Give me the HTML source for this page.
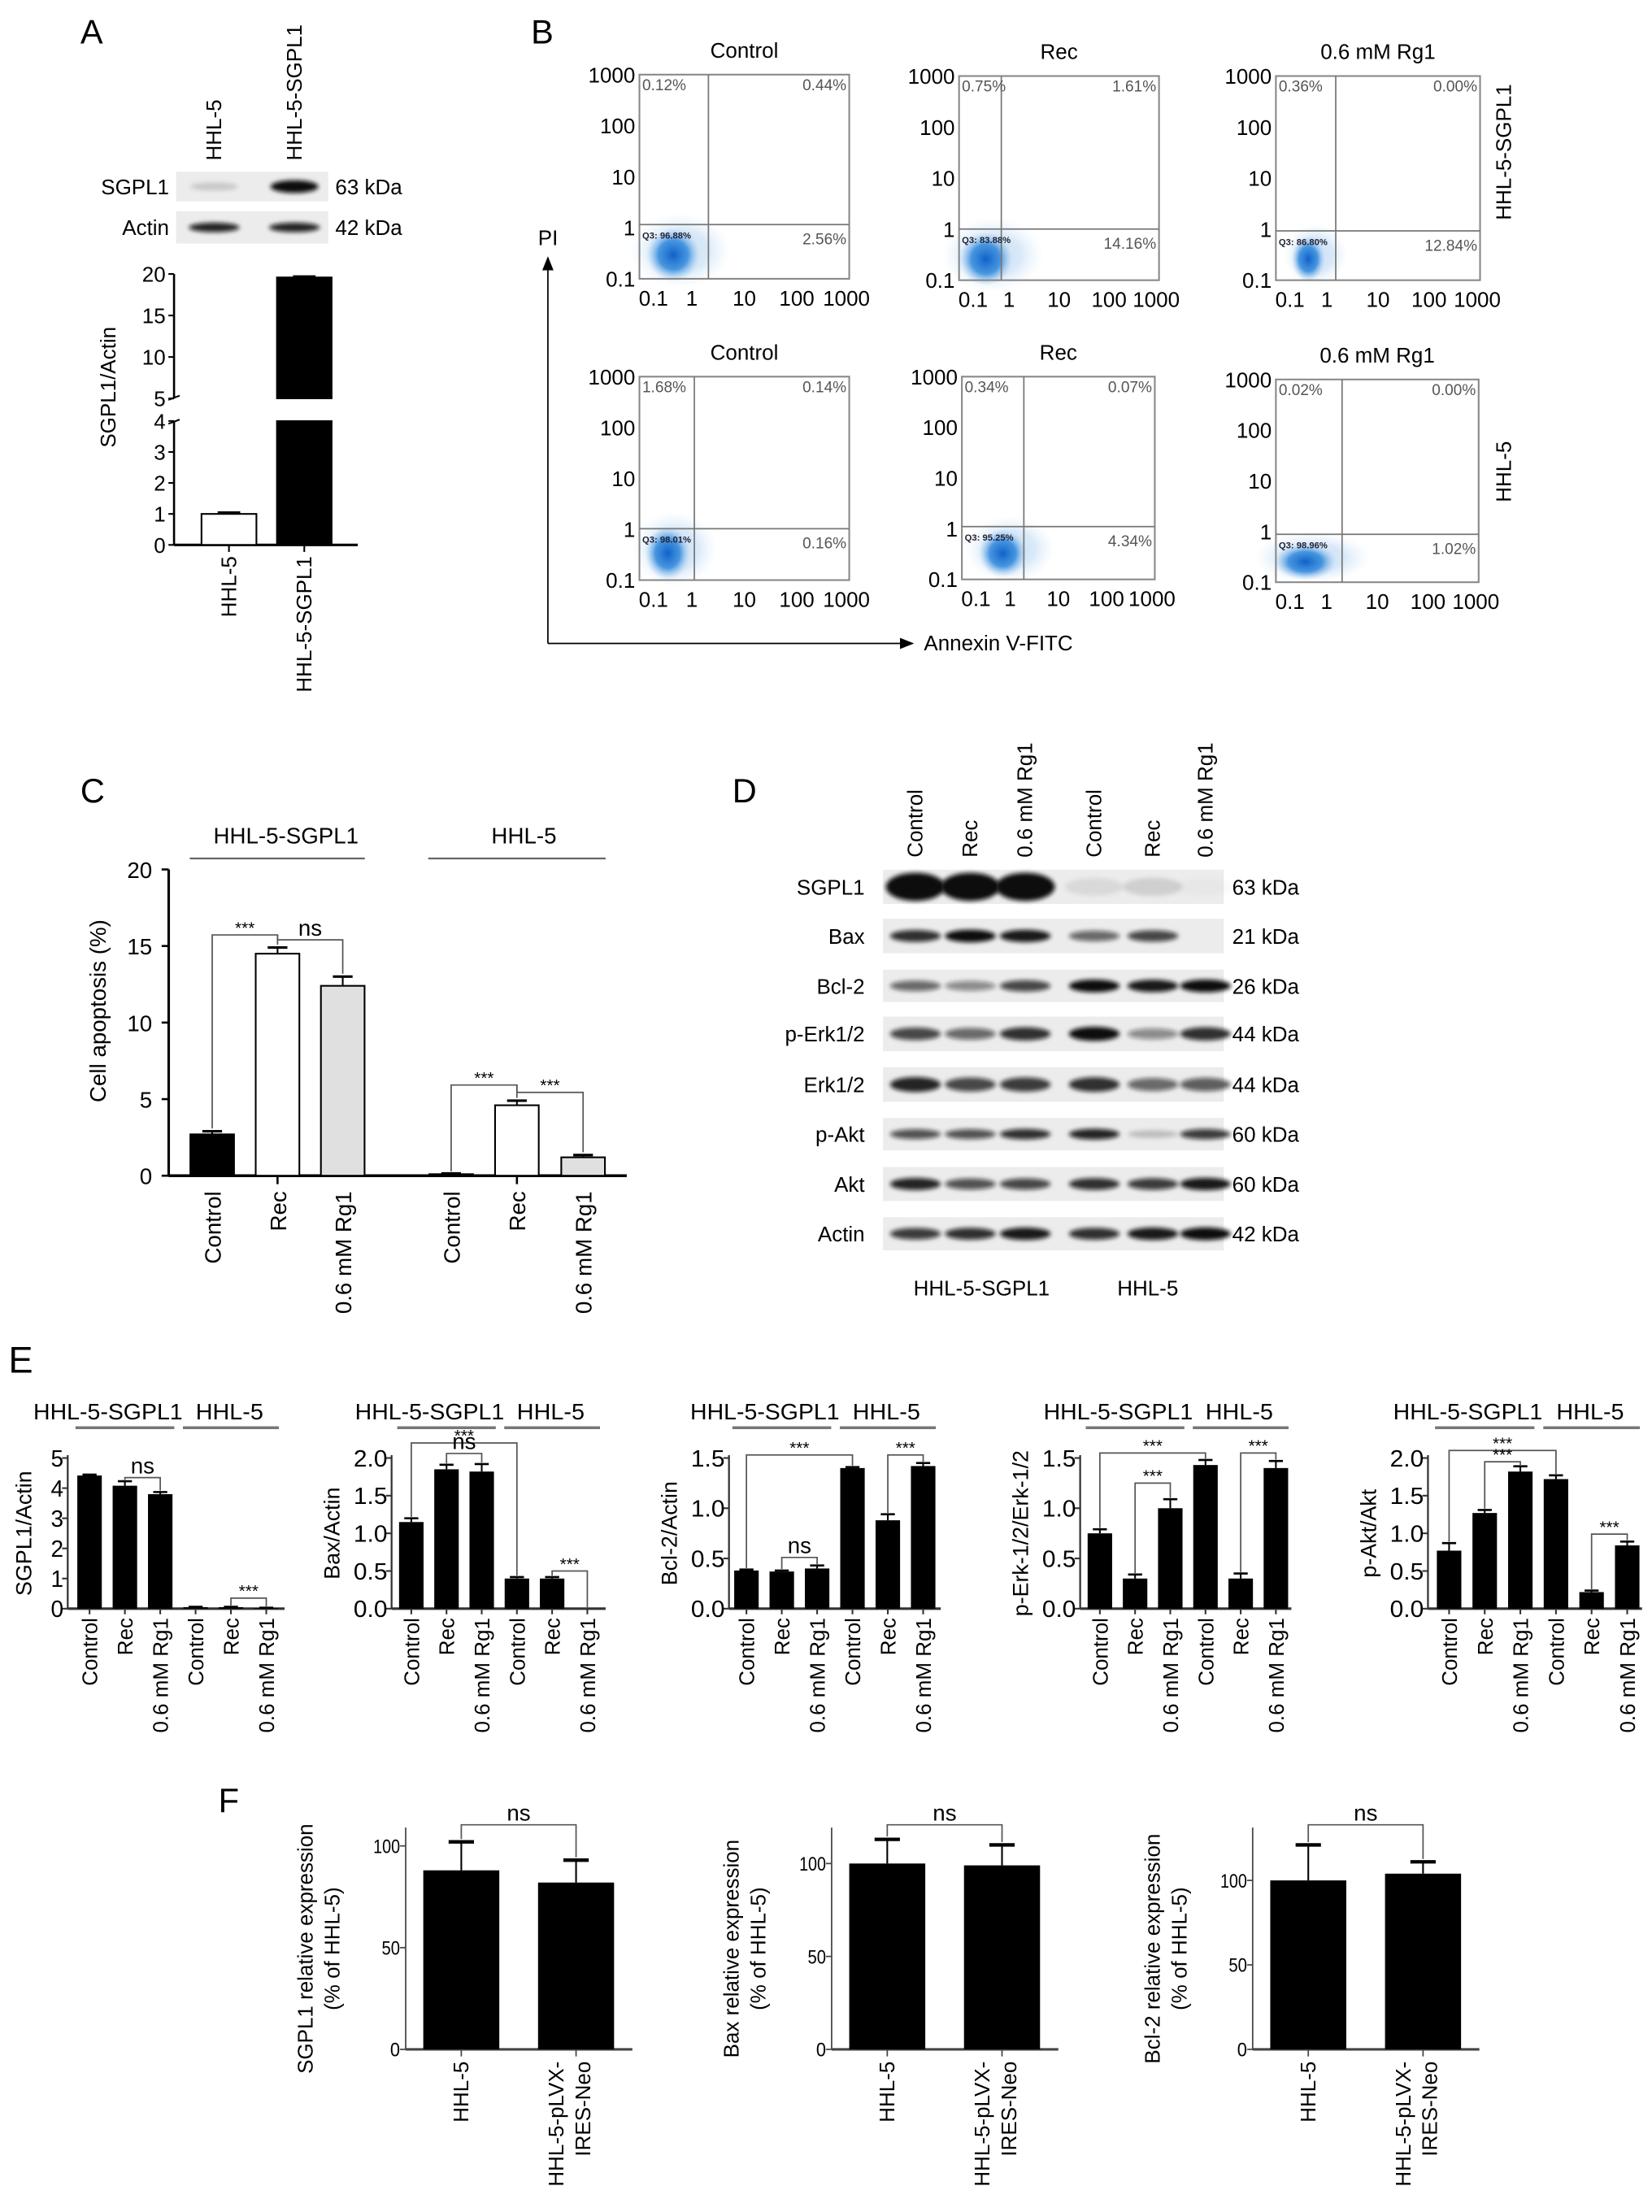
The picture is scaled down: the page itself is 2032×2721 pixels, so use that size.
<!DOCTYPE html>
<html><head><meta charset="utf-8">
<style>
html,body{margin:0;padding:0;background:#fff;}
svg{display:block;font-family:"Liberation Sans",Arial,sans-serif;}
</style></head>
<body>
<svg id="fig" width="2032" height="2721" viewBox="0 0 1173 1571" xmlns="http://www.w3.org/2000/svg">
<defs>
<radialGradient id="blob" cx="50%" cy="50%" r="50%">
<stop offset="0" stop-color="#0f62c8" stop-opacity="1"/>
<stop offset="0.55" stop-color="#2f88dc" stop-opacity="0.85"/>
<stop offset="1" stop-color="#9cc8f0" stop-opacity="0"/>
</radialGradient>
<filter id="bl" x="-30%" y="-60%" width="160%" height="220%"><feGaussianBlur stdDeviation="1.6"/></filter>
<marker id="arr" markerWidth="10" markerHeight="8" refX="9" refY="4" orient="auto"><path d="M0,0 L10,4 L0,8 Z" fill="#000"/></marker>
</defs>
</svg>
<script>
// ---------- DATA ----------
const aCats = ['HHL-5','HHL-5-SGPL1'];
const aVals = [1.0, 19.6];
const aErr = [0.05, 0.12];
const aBlotSgpl1 = [0.15, 1.0];
const aBlotActin = [0.9, 0.9];

const bTitles = ['Control','Rec','0.6 mM Rg1','Control','Rec','0.6 mM Rg1'];
const bUL = ['0.12%','0.75%','0.36%','1.68%','0.34%','0.02%'];
const bUR = ['0.44%','1.61%','0.00%','0.14%','0.07%','0.00%'];
const bLR = ['2.56%','14.16%','12.84%','0.16%','4.34%','1.02%'];
const bQ3 = ['Q3: 96.88%','Q3: 83.88%','Q3: 86.80%','Q3: 98.01%','Q3: 95.25%','Q3: 98.96%'];
const bYTicks = ['1000','100','10','1','0.1'];
const bXTicks = ['0.1','1','10','100','1000'];

const cCats = ['Control','Rec','0.6 mM Rg1','Control','Rec','0.6 mM Rg1'];
const cVals = [2.7, 14.5, 12.4, 0.1, 4.6, 1.2];
const cErr = [0.2, 0.4, 0.6, 0.05, 0.3, 0.15];
const cTicks = [0,5,10,15,20];

const dLanes = ['Control','Rec','0.6 mM Rg1','Control','Rec','0.6 mM Rg1'];
const dProteins = ['SGPL1','Bax','Bcl-2','p-Erk1/2','Erk1/2','p-Akt','Akt','Actin'];
const dKda = ['63 kDa','21 kDa','26 kDa','44 kDa','44 kDa','60 kDa','60 kDa','42 kDa'];
const dSGPL1 = [1,1,1,0.08,0.12,0.02];
const dBax = [0.85,1,0.95,0.6,0.75,0];
const dBcl2 = [0.6,0.45,0.75,1,0.95,1];
const dPerk = [0.75,0.6,0.85,1,0.45,0.85];
const dErk = [0.9,0.75,0.8,0.85,0.6,0.65];
const dPakt = [0.7,0.7,0.85,0.9,0.2,0.8];
const dAkt = [0.9,0.7,0.75,0.85,0.8,0.95];
const dActin = [0.8,0.85,0.95,0.85,0.95,1];

const eCats = ['Control','Rec','0.6 mM Rg1','Control','Rec','0.6 mM Rg1'];
const eSgpl1 = [4.42,4.08,3.8,0.05,0.05,0.02];
const eSgpl1Err = [0.03,0.15,0.07,0.01,0.01,0.01];
const eBax = [1.15,1.85,1.82,0.4,0.4,0.0];
const eBaxErr = [0.05,0.06,0.1,0.02,0.02,0];
const eBcl2 = [0.38,0.37,0.4,1.4,0.88,1.42];
const eBcl2Err = [0.01,0.01,0.03,0.01,0.06,0.03];
const ePerk = [0.75,0.3,1.0,1.43,0.3,1.4];
const ePerkErr = [0.04,0.04,0.09,0.05,0.05,0.07];
const ePakt = [0.77,1.27,1.82,1.72,0.22,0.84];
const ePaktErr = [0.1,0.04,0.07,0.05,0.02,0.05];
const eTicks1 = ['0','1','2','3','4','5'];
const eTicks2 = ['0.0','0.5','1.0','1.5','2.0'];
const eTicks15 = ['0.0','0.5','1.0','1.5'];

const fCats = ['HHL-5','HHL-5-pLVX-|IRES-Neo'];
const fSgpl1 = [88, 82];
const fSgpl1Err = [14, 11];
const fBax = [100, 99];
const fBaxErr = [13, 11];
const fBcl2 = [100, 104];
const fBcl2Err = [21, 7];
const fTicks = [0,50,100];

// ---------- HELPERS ----------
const NS='http://www.w3.org/2000/svg';
const root=document.getElementById('fig');
function mk(tag,attrs,parent){const e=document.createElementNS(NS,tag);for(const k in attrs)e.setAttribute(k,attrs[k]);(parent||root).appendChild(e);return e;}
function tx(s,x,y,attrs,parent){const t=mk('text',Object.assign({x:x,y:y},attrs||{}),parent);t.textContent=s;return t;}
function rtx(s,x,y,anchor,size,parent){const t=mk('text',{x:0,y:0,transform:'translate('+x+','+y+') rotate(-90)','text-anchor':anchor,'font-size':size},parent);t.textContent=s;return t;}
function ln(x1,y1,x2,y2,w,col,parent){return mk('line',{x1:x1,y1:y1,x2:x2,y2:y2,stroke:col||'#000','stroke-width':w||1},parent);}
function blotRow(x,y,w,h,centers,vals,bandW,bandH,parent){
  const bg=mk('rect',{x:x,y:y,width:w,height:h,fill:'#ececec'},parent);
  
  
  for(let i=0;i<centers.length;i++){
    if(vals[i]<=0.01)continue;
    const b=mk('ellipse',{cx:centers[i],cy:y+h/2,rx:bandW/2,ry:bandH/2*(0.6+0.4*vals[i]),fill:'#111','fill-opacity':vals[i],filter:'url(#bl)'},parent);
    
    
  }
}
function bracket(x1,x2,y,yl,yr,label,size,parent){
  const p=mk('path',{d:'M'+x1+','+yl+' V'+y+' H'+x2+' V'+yr,fill:'none',stroke:'#555','stroke-width':1},parent);
  
  
  const t=tx(label,(x1+x2)/2,label==='ns'?y-3:y-1,{'text-anchor':'middle','font-size':size},parent);
  
  
}

// ---------- PANEL A ----------
(function(){
  const g=mk('g',{});
  
  
  const L=tx('A',57,31,{'font-size':24},g);
  
  
  const lane=[152,209];
  for(let i=0;i<2;i++){const t=rtx(aCats[i],lane[i]+5,114,'start',15,g);}
  blotRow(125,122,108,21,lane,aBlotSgpl1,34,9,g);
  blotRow(125,150,108,23,lane,aBlotActin,36,7,g);
  let t=tx('SGPL1',120,138,{'text-anchor':'end','font-size':15},g);
  t=tx('Actin',120,167,{'text-anchor':'end','font-size':15},g);
  t=tx('63 kDa',238,138,{'font-size':15},g);
  t=tx('42 kDa',238,167,{'font-size':15},g);
  const ax=123.5, y0=387, y4=299, y5=283, y20=194.6;
  function yv(v){return v<=4? y0-v/4*(y0-y4) : y5-(v-5)/15*(y5-y20);}
  ln(ax,y20,ax,y5,1.5,'#000',g); ln(ax,y4,ax,y0,1.5,'#000',g);
  ln(ax-4,y5+1,ax+4,y5-2,1.2,'#000',g); ln(ax-4,y4+2,ax+4,y4-1,1.2,'#000',g);
  ln(ax,y0,254,y0,1.8,'#000',g);
  [20,15,10,5,4,3,2,1,0].forEach(v=>{const y=yv(v);ln(ax-4,y,ax,y,1.2,'#000',g);const k=tx(String(v),ax-6,y+5.5,{'text-anchor':'end','font-size':15},g);});
  const yl=rtx('SGPL1/Actin',82,275,'middle',15,g);
  const bx=[162.5,216], bw=39;
  for(let i=0;i<2;i++){
    const v=aVals[i], fill=i===0?'#fff':'#000';
    if(v<=4){
      const r=mk('rect',{x:bx[i]-bw/2,y:yv(v),width:bw,height:y0-yv(v),fill:fill,stroke:'#000','stroke-width':1.2},g);
      
    } else {
      const r1=mk('rect',{x:bx[i]-bw/2,y:y4,width:bw,height:y0-y4,fill:fill,stroke:'#000'},g);
      
      const r2=mk('rect',{x:bx[i]-bw/2,y:yv(v),width:bw,height:y5-yv(v),fill:fill,stroke:'#000'},g);
      
    }
    const ye=yv(v+aErr[i]);
    ln(bx[i],yv(v),bx[i],ye,1.2,'#000',g); ln(bx[i]-8,ye,bx[i]+8,ye,1.5,'#000',g);
    ln(bx[i],y0,bx[i],y0+5,1.2,'#000',g);
    const xl=rtx(aCats[i],bx[i]+5,395,'end',15,g);
  }
})();

// ---------- PANEL B ----------
(function(){
  const g=mk('g',{});
  
  
  let t=tx('B',377,31,{'font-size':24},g);
  const boxes=[[454,53,149,145,503,159.5],[681,54,142,145,711,162.7],[906,54,145,145,948.5,164],
               [454,267.5,149,144.5,493,375.5],[683,267.5,137,144,727,374],[906,269.5,144,144,953,379.5]];
  const blobs=[[478,181,19,19],[700,184,19,19],[929,184,12,16],[474,393,16,19],[712,393,17,17],[927,399,22,13]];
  for(let p=0;p<6;p++){
    const [x,y,w,h,vx,hy]=boxes[p];
    const pg=mk('g',{},g);
    
    
    const tt=tx(bTitles[p],x+w/2,y-12,{'text-anchor':'middle','font-size':15},pg);
    const bl=blobs[p];
    const e2=mk('ellipse',{cx:bl[0]+5,cy:bl[1]-3,rx:bl[2]*1.9,ry:bl[3]*1.4,fill:'url(#blob)','fill-opacity':0.22},pg);
    
    const e=mk('ellipse',{cx:bl[0],cy:bl[1],rx:bl[2],ry:bl[3],fill:'url(#blob)'},pg);
    
    const r=mk('rect',{x:x,y:y,width:w,height:h,fill:'none',stroke:'#888','stroke-width':1.2},pg);
    
    ln(vx,y,vx,y+h,1,'#777',pg); ln(x,hy,x+w,hy,1,'#777',pg);
    for(let i=0;i<5;i++){
      const yy=y+i*h/4;
      const a=tx(bYTicks[i],x-3,yy+5.5,{'text-anchor':'end','font-size':15},pg);
      const xx=x+i*w/4+(i===0?10:0)-(i===4?2:0);
      const b=tx(bXTicks[i],xx,y+h+19,{'text-anchor':'middle','font-size':15},pg);
    }
    let q=tx(bUL[p],x+2,y+11,{'font-size':11,fill:'#555'},pg);
    q=tx(bUR[p],x+w-2,y+11,{'font-size':11,fill:'#555','text-anchor':'end'},pg);
    q=tx(bLR[p],x+w-2,hy+14,{'font-size':11,fill:'#555','text-anchor':'end'},pg);
    q=tx(bQ3[p],x+2,hy+10,{'font-size':6.5,'font-weight':'bold',fill:'#223'},pg);
  }
  const av=mk('line',{x1:389,y1:457,x2:389,y2:183,stroke:'#000','stroke-width':1,'marker-end':'url(#arr)'},g);
  
  const ah=mk('line',{x1:389,y1:457,x2:648,y2:457,stroke:'#000','stroke-width':1,'marker-end':'url(#arr)'},g);
  
  t=tx('PI',382,174,{'font-size':15},g);
  t=tx('Annexin V-FITC',656,462,{'font-size':15},g);
  t=rtx('HHL-5-SGPL1',1073,108,'middle',15,g);
  t=rtx('HHL-5',1073,335,'middle',15,g);
})();

// ---------- PANEL C ----------
(function(){
  const g=mk('g',{});
  
  
  let t=tx('C',57,570,{'font-size':24},g);
  const ax=119.7, y0=835, yT=617.5, vmax=20;
  const y=v=>y0-v/vmax*(y0-yT);
  const cx=[150.6,197,243.3,320.3,367,414], bw=31;
  ln(ax,yT,ax,y0,1.8,'#000',g); ln(ax,y0,445,y0,2,'#000',g);
  cTicks.forEach(v=>{ln(ax-5,y(v),ax,y(v),1.5,'#000',g);const k=tx(String(v),108,y(v)+6,{'text-anchor':'end','font-size':16},g);});
  t=rtx('Cell apoptosis (%)',75,718,'middle',16,g);
  const fills=['#000','#fff','#e0e0e0','#000','#fff','#e0e0e0'];
  for(let i=0;i<6;i++){
    const r=mk('rect',{x:cx[i]-bw/2,y:y(cVals[i]),width:bw,height:y0-y(cVals[i]),fill:fills[i],stroke:'#000','stroke-width':1.2},g);
    
    
    const ye=y(cVals[i]+cErr[i]);
    ln(cx[i],y(cVals[i]),cx[i],ye,1.2,'#000',g); ln(cx[i]-7,ye,cx[i]+7,ye,1.8,'#000',g);
    if(i===1||i===4) ln(cx[i],y0,cx[i],y0+6,1.5,'#000',g);
    const xl=rtx(cCats[i],cx[i]+6,846,'end',16,g);
  }
  const l1=ln(134.7,609.7,259,609.7,1.3,'#666',g);
  const l2=ln(304,609.7,430,609.7,1.3,'#666',g);
  t=tx('HHL-5-SGPL1',203,599,{'text-anchor':'middle','font-size':16},g);
  t=tx('HHL-5',372,599,{'text-anchor':'middle','font-size':16},g);
  bracket(cx[0],cx[1],664,y(cVals[0]+cErr[0])-2,y(cVals[1]+cErr[1])-2,'***',12,g);
  bracket(cx[1],cx[2],667.5,664,y(cVals[2]+cErr[2])-2,'ns',16,g);
  bracket(cx[3],cx[4],770.6,y(cVals[3])-2,y(cVals[4]+cErr[4])-2,'***',12,g);
  bracket(cx[4],cx[5],775.8,770.6,y(cVals[5]+cErr[5])-2,'***',12,g);
})();

// ---------- PANEL D ----------
(function(){
  const g=mk('g',{});
  
  
  let t=tx('D',520,570,{'font-size':24},g);
  const lanes=[650,689,728,777,818.6,856];
  for(let i=0;i<6;i++){const l=rtx(dLanes[i],lanes[i]+5,609,'start',15,g);}
  const rows=[[617.7,24.3],[652.5,24.5],[688.7,23],[722,24.5],[758,24.5],[794,23],[828.8,24.2],[864.5,23.5]];
  const data=[dSGPL1,dBax,dBcl2,dPerk,dErk,dPakt,dAkt,dActin];
  const bh=[20,9,9,10,11,8,9,9];
  for(let r=0;r<8;r++){
    const rg=mk('g',{},g);
    
    
    blotRow(627,rows[r][0],242,rows[r][1],lanes,data[r],r===0?42:36,bh[r],rg);
    const cy=rows[r][0]+rows[r][1]/2+5.5;
    const a=tx(dProteins[r],614,cy,{'text-anchor':'end','font-size':15},rg);
    const b=tx(dKda[r],875,cy,{'font-size':15},rg);
  }
  t=tx('HHL-5-SGPL1',697,920,{'text-anchor':'middle','font-size':15},g);
  t=tx('HHL-5',815,920,{'text-anchor':'middle','font-size':15},g);
})();

// ---------- PANEL E ----------
function eChart(cfg){
  const g=mk('g',{});
  
  
  const y0=1142.5, yT=1035.5;
  const y=v=>y0-v/cfg.max*(y0-yT);
  const ax=cfg.ax;
  const cx=[];for(let i=0;i<6;i++)cx.push(cfg.c0+i*cfg.step);
  ln(ax,yT-2,ax,y0,1.3,'#333',g); ln(ax,y0,cfg.end,y0,1.8,'#333',g);
  cfg.ticks.forEach((s,i)=>{const v=i*cfg.max/(cfg.ticks.length-1);ln(ax-4,y(v),ax,y(v),1.2,'#333',g);const k=tx(s,ax-3,y(v)+6,{'text-anchor':'end','font-size':16.5,'textLength':s.length>1?24:9,'lengthAdjust':'spacingAndGlyphs'},g);});
  const yl=rtx(cfg.ylabel,cfg.ax-(cfg.ticks[0].length>1?37:26),1089,'middle',15.5,g);
  for(let i=0;i<6;i++){
    const v=cfg.vals[i];
    const r=mk('rect',{x:cx[i]-8.7,y:y(v),width:17.4,height:y0-y(v),fill:'#000'},g);
    
    
    const ye=y(v+cfg.err[i]);
    if(cfg.err[i]>0){ln(cx[i],y(v),cx[i],ye,1.2,'#000',g);ln(cx[i]-5,ye,cx[i]+5,ye,1.5,'#000',g);}
    ln(cx[i],y0,cx[i],y0+4,1.2,'#333',g);
    const xl=rtx(eCats[i],cx[i]+5.5,1149,'end',15,g);
  }
  const l1=ln(cx[0]-10,1014,cx[2]+10,1014,2,'#777',g);
  const l2=ln(cx[3]-9,1014,cx[5]+9,1014,2,'#777',g);
  let t=tx('HHL-5-SGPL1',cx[1]-12,1008,{'text-anchor':'middle','font-size':16,'textLength':106,'lengthAdjust':'spacingAndGlyphs'},g);
  t=tx('HHL-5',cx[4]-1,1008,{'text-anchor':'middle','font-size':16,'textLength':48,'lengthAdjust':'spacingAndGlyphs'},g);
  cfg.br.forEach(b=>{
    const [i,j,h,lab]=b;
    bracket(cx[i],cx[j],y(h),y(cfg.vals[i]+cfg.err[i])-1,y(cfg.vals[j]+cfg.err[j])-1,lab,lab==='ns'?16:12,g);
  });
}
eChart({name:'chart-e-sgpl1',ax:48,c0:63.5,step:25.1,end:202,max:5,ticks:eTicks1,vals:eSgpl1,err:eSgpl1Err,ylabel:'SGPL1/Actin',br:[[1,2,4.35,'ns'],[4,5,0.35,'***']]});
eChart({name:'chart-e-bax',ax:278,c0:292,step:25,end:430,max:2,ticks:eTicks2,vals:eBax,err:eBaxErr,ylabel:'Bax/Actin',br:[[0,3,2.2,'***'],[1,2,2.06,'ns'],[4,5,0.5,'***']]});
eChart({name:'chart-e-bcl2',ax:517.6,c0:530,step:25.1,end:668,max:1.5,ticks:eTicks15,vals:eBcl2,err:eBcl2Err,ylabel:'Bcl-2/Actin',br:[[0,3,1.53,'***'],[1,2,0.51,'ns'],[4,5,1.53,'***']]});
eChart({name:'chart-e-perk',ax:767,c0:781,step:25,end:917,max:1.5,ticks:eTicks15,vals:ePerk,err:ePerkErr,ylabel:'p-Erk-1/2/Erk-1/2',br:[[0,3,1.55,'***'],[1,2,1.25,'***'],[4,5,1.55,'***']]});
eChart({name:'chart-e-pakt',ax:1014,c0:1029,step:25.3,end:1166,max:2,ticks:eTicks2,vals:ePakt,err:ePaktErr,ylabel:'p-Akt/Akt',br:[[0,3,2.1,'***'],[1,2,1.95,'***'],[4,5,0.99,'***']]});
(function(){let t=tx('E',6,975,{'font-size':26});})();

// ---------- PANEL F ----------
function fChart(cfg){
  const g=mk('g',{});
  
  
  const y0=1455.5;
  const y=v=>y0-v*cfg.ppu;
  const ax=cfg.ax;
  ln(ax,1298,ax,y0,1,'#444',g); ln(ax,y0,ax+161,y0,1.8,'#444',g);
  fTicks.forEach(v=>{ln(ax-4,y(v),ax,y(v),1,'#444',g);const k=tx(String(v),ax-4,y(v)+5,{'text-anchor':'end','font-size':14,'textLength':v>=100?19:(v>0?13:7),'lengthAdjust':'spacingAndGlyphs'},g);});
  const cx=[ax+39.5,ax+121];
  for(let i=0;i<2;i++){
    const v=cfg.vals[i];
    const r=mk('rect',{x:cx[i]-27,y:y(v),width:54,height:y0-y(v),fill:'#000'},g);
    
    
    const ye=y(v+cfg.err[i]);
    ln(cx[i],y(v),cx[i],ye,1.2,'#000',g); ln(cx[i]-9,ye,cx[i]+9,ye,2.5,'#000',g);
    ln(cx[i],y0,cx[i],y0+5,1,'#444',g);
    const parts=fCats[i].split('|');
    if(parts.length===1){const a=rtx(parts[0],cx[i]+5,1464,'end',15,g);}
    else{const a=rtx(parts[0],cx[i]-9,1464,'end',15,g);
      const b=rtx(parts[1],cx[i]+10,1464,'end',15,g);}
  }
  const yl1=rtx(cfg.yl1,ax-66,1384,'middle',15,g);
  const yl2=rtx('(% of HHL-5)',ax-47,1384,'middle',15,g);
  bracket(cx[0],cx[1],1296,y(cfg.vals[0]+cfg.err[0])-2,y(cfg.vals[1]+cfg.err[1])-2,'ns',16,g);
}
fChart({name:'chart-f-sgpl1',ax:288,ppu:1.445,vals:fSgpl1,err:fSgpl1Err,yl1:'SGPL1 relative expression'});
fChart({name:'chart-f-bax',ax:590.5,ppu:1.32,vals:fBax,err:fBaxErr,yl1:'Bax relative expression'});
fChart({name:'chart-f-bcl2',ax:889.5,ppu:1.2,vals:fBcl2,err:fBcl2Err,yl1:'Bcl-2 relative expression'});
(function(){let t=tx('F',155,1287,{'font-size':24});})();
</script>
</body></html>
